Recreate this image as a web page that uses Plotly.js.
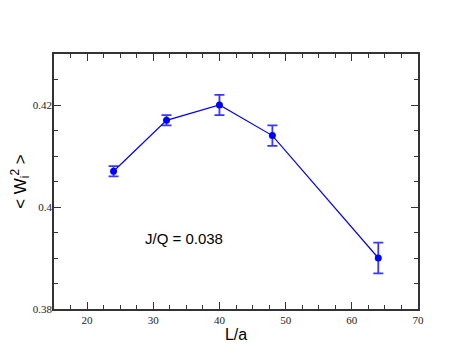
<!DOCTYPE html>
<html>
<head>
<meta charset="utf-8">
<script src="https://cdn.plot.ly/plotly-3.0.1.min.js"></script>
<style>
  html, body { margin: 0; padding: 0; background: #fff; }
  #plot-area { width: 471px; height: 364px; }
</style>
</head>
<body>
<div id="plot-area"></div>
<script>
// lattice sizes and measured <W_i^2>
var sizes = [24, 32, 40, 48, 64];
var widthSq = [0.407, 0.417, 0.420, 0.414, 0.390];
var widthErr = [0.001, 0.001, 0.002, 0.002, 0.003];

var label = "J/Q = 0.038";
var labelX = 28.5, labelY = 0.3939;

function UpdatePlot() {
    var data = [
        {
            x: sizes,
            y: widthSq,
            mode: "lines+markers",
            line: {color: "#0000ff", width: 1.2},
            marker: {color: "#0000ff", size: 7},
            error_y: {type: "data", array: widthErr, visible: true,
                      color: "rgba(20,20,255,0.85)", thickness: 1.8, width: 5},
            showlegend: false
        }
    ];

    var axisStyle = {
        showline: true, linecolor: "#333", linewidth: 1.5, mirror: "ticks",
        ticks: "inside", ticklen: 7, tickcolor: "#333", tickwidth: 1,
        showgrid: false, zeroline: false,
        tickfont: {family: "'Times New Roman', 'Liberation Serif', serif", size: 11, color: "#222"}
    };

    var layout = {
        width: 471, height: 364,
        margin: {l: 54, r: 53, t: 54, b: 55},
        paper_bgcolor: "#fff", plot_bgcolor: "#fff",
        xaxis: Object.assign({}, axisStyle, {
            range: [15, 70], dtick: 10, tick0: 0,
            minor: {dtick: 2.5, ticks: "inside", ticklen: 4, tickcolor: "#333"},
            title: {text: "L/a", standoff: 3,
                    font: {family: "'Liberation Sans', Arial, sans-serif", size: 16, color: "#000"}}
        }),
        yaxis: Object.assign({}, axisStyle, {
            range: [0.38, 0.43], dtick: 0.02, tick0: 0,
            ticklabelstandoff: -2,
            minor: {dtick: 0.005, ticks: "inside", ticklen: 4, tickcolor: "#333"},
            title: {text: "< W<sub>i</sub><sup>2</sup> >", standoff: 2,
                    font: {family: "'Liberation Sans', Arial, sans-serif", size: 17, color: "#000"}}
        }),
        annotations: [
            {x: labelX, y: labelY, xref: "x", yref: "y", text: label,
             showarrow: false, xanchor: "left",
             font: {family: "'Liberation Sans', Arial, sans-serif", size: 15, color: "#000"}}
        ]
    };

    Plotly.newPlot("plot-area", data, layout, {displayModeBar: false});
}

UpdatePlot();
</script>
</body>
</html>
